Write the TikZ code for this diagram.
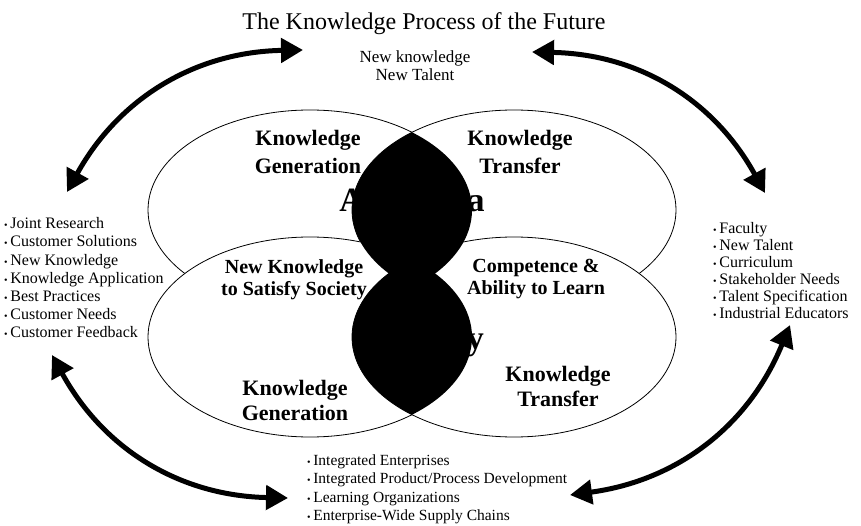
\documentclass[tikz,border=0pt]{standalone}
\usepackage{fontspec}
\setmainfont{Liberation Serif}
\usetikzlibrary{arrows.meta}
\newcommand{\punto}{{\fontsize{10}{10}\selectfont\textbullet}\,}

\begin{document}
\begin{tikzpicture}[x=1pt, y=-1pt,
        elipse/.style={draw, line width=0.8pt, fill=white},
        etiqueta/.style={font=\fontsize{22}{28}\selectfont\bfseries, align=center, anchor=north, inner sep=0pt},
        lista/.style={align=left, anchor=north west, inner sep=0pt},
        flecha/.style={line width=5pt, {Triangle[length=22pt,width=24pt]}-{Triangle[length=22pt,width=24pt]}}]

        % Fondo y margenes
        \fill[white] (0,0) rectangle (861,526);
        \useasboundingbox (0,0) rectangle (861,526);

        % Titulo y texto superior
        \node[anchor=base, inner sep=0pt, font=\fontsize{24}{28}\selectfont] (titulo) at (424,30) {The Knowledge Process of the Future};
        \node[anchor=north, align=center, inner sep=0pt, font=\fontsize{17}{18}\selectfont] (nuevo) at (415,51) {New knowledge\\New Talent};

        % Las cuatro elipses (arriba: academia, abajo: industria)
        \draw[elipse] (310,210) ellipse [x radius=162pt, y radius=100pt];
        \draw[elipse] (514,210) ellipse [x radius=162pt, y radius=100pt];
        \draw[elipse] (310,337) ellipse [x radius=162pt, y radius=100pt];
        \draw[elipse] (514,337) ellipse [x radius=162pt, y radius=100pt];

        % Etiquetas de las elipses
        \node[etiqueta] (genA) at (308,130) {Knowledge\\Generation};
        \node[etiqueta] (transA) at (520,130) {Knowledge\\Transfer};
        \node[etiqueta, font=\fontsize{20}{22}\selectfont\bfseries] (sociedad) at (294,259) {New Knowledge\\to Satisfy Society};
        \node[etiqueta, font=\fontsize{20}{22}\selectfont\bfseries] (competencia) at (536,259) {Competence \&\\Ability to Learn};
        \node[etiqueta, font=\fontsize{22}{25}\selectfont\bfseries] (genB) at (295,380) {Knowledge\\Generation};
        \node[etiqueta, font=\fontsize{22}{25}\selectfont\bfseries] (transB) at (558,366) {Knowledge\\Transfer};

        % Palabras grandes (tapadas por las lentes)
        \node[anchor=base, inner sep=0pt, font=\fontsize{34}{40}\selectfont\bfseries] (academia) at (412,212) {Academia};
        \node[anchor=base east, inner sep=0pt, font=\fontsize{34}{40}\selectfont\bfseries] (industria) at (484,349) {Industry};

        % Lentes negras (intersecciones)
        \begin{scope}
            \clip (310,210) ellipse [x radius=162pt, y radius=100pt];
            \fill[black] (514,210) ellipse [x radius=162pt, y radius=100pt];
        \end{scope}
        \begin{scope}
            \clip (310,337) ellipse [x radius=162pt, y radius=100pt];
            \fill[black] (514,337) ellipse [x radius=162pt, y radius=100pt];
        \end{scope}

        % Listas
        \node[lista, font=\fontsize{16}{18.1}\selectfont] (listaIzq) at (4,217.5) {\punto Joint Research\\\punto Customer Solutions\\\punto New Knowledge\\\punto Knowledge Application\\\punto Best Practices\\\punto Customer Needs\\\punto Customer Feedback};
        \node[lista, font=\fontsize{16}{17}\selectfont] (listaDer) at (713,222.5) {\punto Faculty\\\punto New Talent\\\punto Curriculum\\\punto Stakeholder Needs\\\punto Talent Specification\\\punto Industrial Educators};
        \node[lista, font=\fontsize{15.5}{18.3}\selectfont] (listaInf) at (307,454.5) {\punto Integrated Enterprises\\\punto Integrated Product/Process Development\\\punto Learning Organizations\\\punto Enterprise-Wide Supply Chains};

        % Extremos de las flechas
        \coordinate (izqArriba) at (67,192);
        \coordinate (nuevoIzq) at (303,50);
        \coordinate (nuevoDer) at (532,52);
        \coordinate (derArriba) at (765,193);
        \coordinate (izqAbajo) at (52,355);
        \coordinate (infIzq) at (288,498);
        \coordinate (infDer) at (570,495);
        \coordinate (derAbajo) at (790,325);

        % Flechas curvas dobles
        \draw[flecha] (izqArriba) to[bend left=30] (nuevoIzq);
        \draw[flecha] (nuevoDer) to[bend left=30] (derArriba);
        \draw[flecha] (izqAbajo) to[bend right=30] (infIzq);
        \draw[flecha] (infDer) to[bend right=30] (derAbajo);

    \end{tikzpicture}
\end{document}
